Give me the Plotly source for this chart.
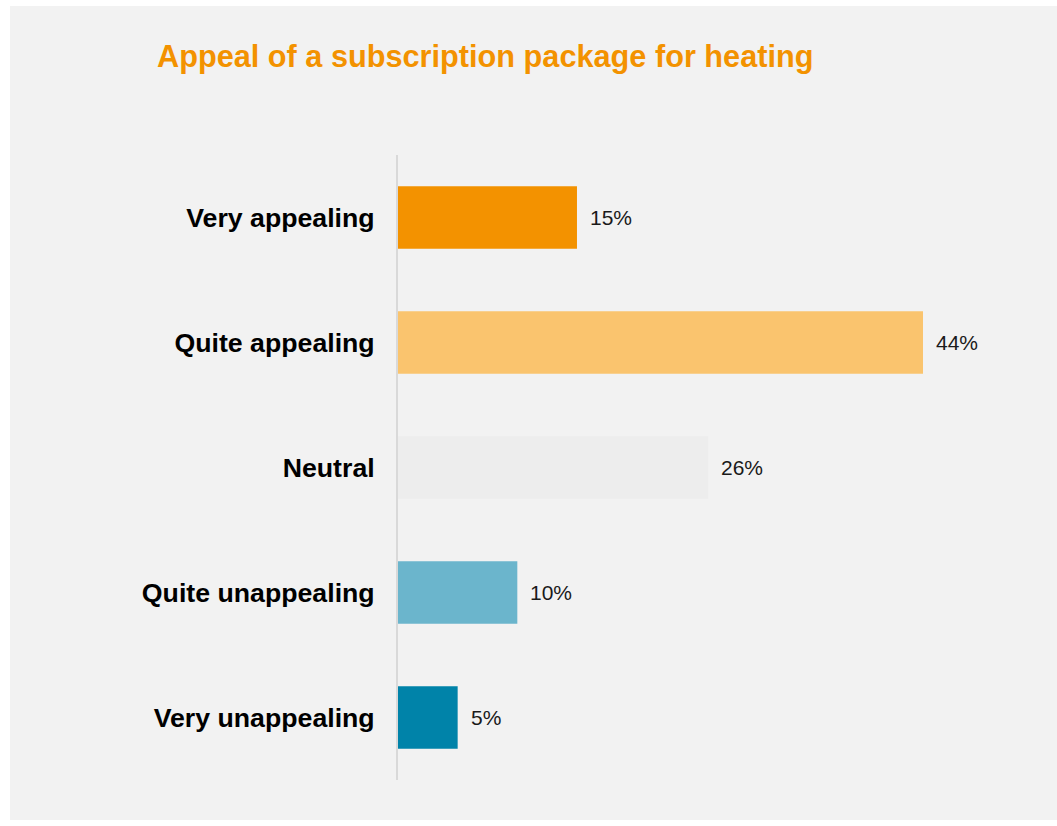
import plotly.graph_objects as go

# Survey results: appeal of a subscription package for heating
categories = ["Very appealing", "Quite appealing", "Neutral", "Quite unappealing", "Very unappealing"]
shares = [15, 44, 26, 10, 5]
bar_colors = ["#F39200", "#FAC46E", "#EDEDED", "#6BB5CC", "#0083A9"]
value_labels = [f"{v}%" for v in shares]

W, H = 1057, 826
ml, mr, mt, mb = 398, 62, 155, 46
plot_w = W - ml - mr
plot_h = H - mt - mb

fig = go.Figure()
fig.add_trace(go.Bar(
    x=shares,
    y=categories,
    orientation="h",
    marker=dict(color=bar_colors, line=dict(width=0)),
    width=0.5,
    hoverinfo="skip",
))

# Percentage labels to the right of each bar
for cat, val, lab in zip(categories, shares, value_labels):
    fig.add_annotation(
        x=val, y=cat, text=lab, showarrow=False,
        xanchor="left", yanchor="middle", xshift=11,
        font=dict(family="Liberation Sans, Arial, sans-serif", size=21, color="#1a1a1a"),
    )

# Light grey panel behind the whole chart
def px_to_paper_x(px):
    return (px - ml) / plot_w

def px_to_paper_y(py):
    return (H - mb - py) / plot_h

fig.add_shape(
    type="rect", xref="paper", yref="paper", layer="below",
    x0=px_to_paper_x(10), x1=px_to_paper_x(W + 5),
    y0=px_to_paper_y(820), y1=px_to_paper_y(6),
    fillcolor="#F2F2F2", line=dict(width=0),
)

fig.update_layout(
    width=W, height=H,
    margin=dict(l=ml, r=mr, t=mt, b=mb, pad=0),
    paper_bgcolor="white",
    plot_bgcolor="rgba(0,0,0,0)",
    showlegend=False,
    title=dict(
        text="<b>Appeal of a subscription package for heating</b>",
        xref="container", yref="container",
        x=157 / W, xanchor="left",
        y=1 - 56 / H, yanchor="middle",
        font=dict(family="Liberation Sans, Arial, sans-serif", size=30.7, color="#F39200"),
    ),
    xaxis=dict(
        range=[0, plot_w / (525 / 44)],
        visible=False, showgrid=False, zeroline=False, fixedrange=True,
    ),
    yaxis=dict(
        autorange="reversed",
        showline=True, linecolor="#D9D9D9", linewidth=2,
        showgrid=False, zeroline=False,
        ticks="", ticklabelstandoff=16,
        tickfont=dict(family="Liberation Sans, Arial, sans-serif", size=26.7, color="#000000", weight="bold"),
    ),
    bargap=0.5,
)

fig.write_html("out.html")
